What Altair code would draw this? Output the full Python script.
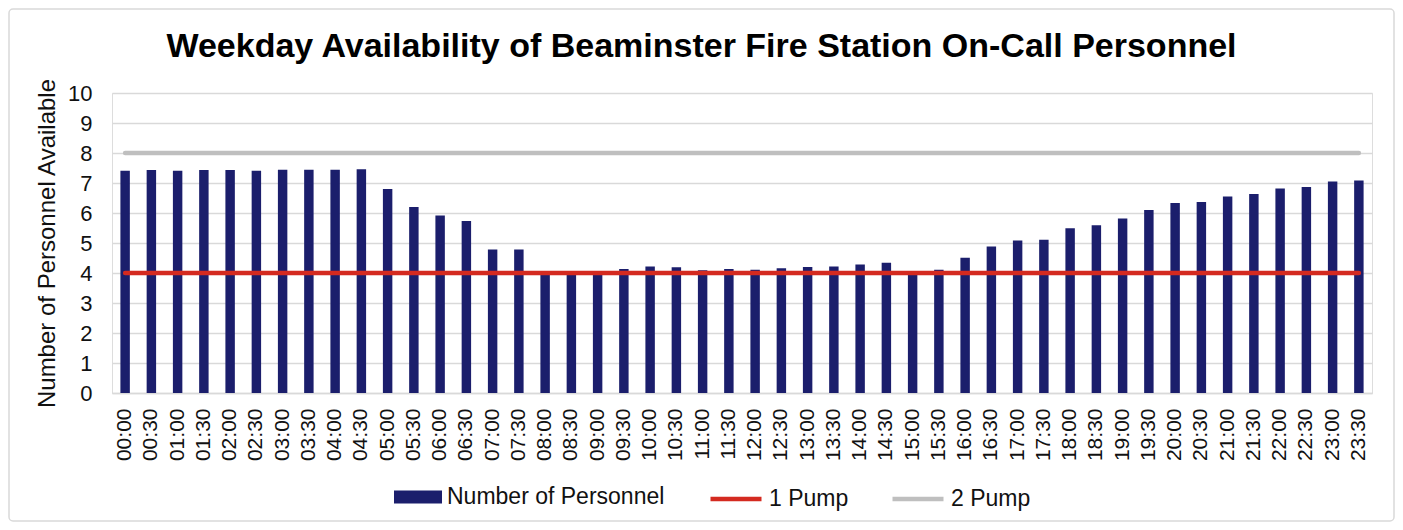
import altair as alt
import pandas as pd

times = ["00:00", "00:30", "01:00", "01:30", "02:00", "02:30", "03:00", "03:30",
         "04:00", "04:30", "05:00", "05:30", "06:00", "06:30", "07:00", "07:30",
         "08:00", "08:30", "09:00", "09:30", "10:00", "10:30", "11:00", "11:30",
         "12:00", "12:30", "13:00", "13:30", "14:00", "14:30", "15:00", "15:30",
         "16:00", "16:30", "17:00", "17:30", "18:00", "18:30", "19:00", "19:30",
         "20:00", "20:30", "21:00", "21:30", "22:00", "22:30", "23:00", "23:30"]

personnel = [7.41, 7.43, 7.41, 7.43, 7.43, 7.41, 7.44, 7.44, 7.44, 7.46,
             6.80, 6.20, 5.92, 5.73, 4.78, 4.78, 3.97, 3.96, 3.98, 4.13,
             4.22, 4.19, 4.09, 4.13, 4.11, 4.16, 4.20, 4.22, 4.28, 4.34,
             3.98, 4.11, 4.51, 4.88, 5.08, 5.11, 5.49, 5.59, 5.82, 6.10,
             6.33, 6.37, 6.55, 6.63, 6.82, 6.87, 7.05, 7.08]

pump_times = ["00:00", "23:30"]
one_pump = [4, 4]
two_pump = [8, 8]

y_ticks = [0, 1, 2, 3, 4, 5, 6, 7, 8, 9, 10]

bar_series = "Number of Personnel"
line_series = ["1 Pump", "2 Pump"]

NAVY = "#1b1e6c"
RED = "#d42a20"
GREY = "#bfbfbf"
GRID = "#d9d9d9"
FONT = "Liberation Sans"

bars_df = pd.DataFrame({"time": times, "value": personnel, "series": bar_series})
lines_df = pd.DataFrame({
    "time": pump_times + pump_times,
    "value": one_pump + two_pump,
    "series": [line_series[0]] * len(pump_times) + [line_series[1]] * len(pump_times),
})

x_axis = alt.Axis(
    title=None, labelAngle=270, labelFontSize=21, labelFont=FONT,
    labelColor="#111111", ticks=False, labelPadding=15, domain=True,
    domainColor=GRID, domainWidth=1.5, grid=False, labelOverlap=False,
)
y_axis = alt.Axis(
    title="Number of Personnel Available", values=y_ticks,
    titleFontSize=24, titleFont=FONT, titleFontWeight="normal",
    titleColor="#111111", titleX=-65, titleY=150, titleAngle=270,
    titleAlign="center", titleBaseline="middle",
    labelFontSize=22, labelFont=FONT, labelColor="#111111",
    labelPadding=20, ticks=False, domain=False, grid=True,
    gridColor=GRID, gridWidth=1.3, labelOverlap=False,
)
x_scale = alt.Scale(domain=times, paddingInner=0.64, paddingOuter=0.32)
y_scale = alt.Scale(domain=[0, 10], nice=False)

bars = alt.Chart(bars_df).mark_bar().encode(
    x=alt.X("time:N", scale=x_scale, axis=x_axis),
    y=alt.Y("value:Q", scale=y_scale, axis=y_axis),
    fill=alt.Fill(
        "series:N",
        scale=alt.Scale(domain=[bar_series], range=[NAVY]),
        legend=alt.Legend(
            orient="none", legendX=282, legendY=380, title=None,
            symbolType="M-1,-0.27H1V0.27H-1Z", symbolSize=2304,
            symbolStrokeWidth=0, labelFontSize=23, labelFont=FONT,
            labelColor="#111111", labelOffset=5, padding=0, labelLimit=400,
        ),
    ),
)

lines = alt.Chart(lines_df).mark_line(strokeWidth=4.5, strokeCap="round").encode(
    x=alt.X("time:N", scale=x_scale, axis=x_axis),
    y=alt.Y("value:Q", scale=y_scale, axis=y_axis),
    stroke=alt.Stroke(
        "series:N",
        scale=alt.Scale(domain=line_series, range=[RED, GREY]),
        legend=alt.Legend(
            orient="none", direction="horizontal", legendX=596, legendY=378,
            title=None, symbolType="stroke", symbolSize=2601,
            symbolStrokeWidth=4.5, labelFontSize=23, labelFont=FONT,
            labelColor="#111111", labelOffset=5, columnPadding=34, padding=0,
            labelLimit=400,
        ),
    ),
)

frame = alt.Chart(pd.DataFrame({"frame": [1]})).mark_rect(
    filled=False, stroke=GRID, strokeWidth=1.5, cornerRadius=4
).encode(
    x=alt.value(-103), x2=alt.value(1282), y=alt.value(-84), y2=alt.value(428)
)

chart = alt.layer(frame, bars, lines).properties(
    width=1260,
    height=300,
    title=alt.TitleParams(
        "Weekday Availability of Beaminster Fire Station On-Call Personnel",
        font=FONT, fontSize=34, fontWeight="bold", color="#000000",
        anchor="middle", frame="bounds", baseline="alphabetic", offset=-83,
    ),
    autosize=alt.AutoSizeParams(type="none"),
    padding={"left": 104, "top": 85, "right": 23, "bottom": 129},
).configure_view(stroke=None).configure_axis(labelOverlap=False).configure(background="white")

chart.save("out.html", embed_options={"renderer": "svg", "actions": False})
